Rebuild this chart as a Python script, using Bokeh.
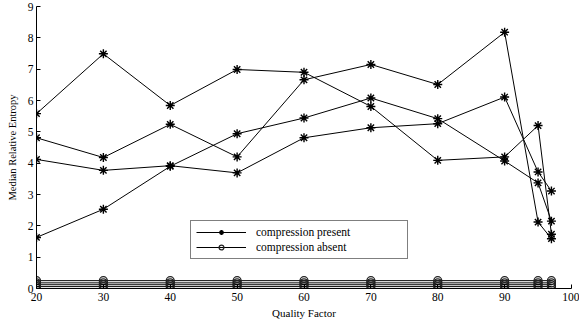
from bokeh.plotting import figure
from bokeh.models import Legend, LegendItem, FixedTicker, Range1d
from bokeh.embed import file_html
from bokeh.resources import INLINE

quality = [20, 30, 40, 50, 60, 70, 80, 90, 95, 97]

present_a = [5.58, 7.49, 5.84, 6.99, 6.90, 5.81, 4.09, 4.20, 5.20, 1.73]
present_b = [4.81, 4.18, 5.24, 4.20, 6.66, 7.15, 6.51, 8.18, 2.12, 1.59]
present_c = [4.12, 3.77, 3.92, 3.69, 4.81, 5.13, 5.26, 6.11, 3.72, 3.11]
present_d = [1.63, 2.53, 3.90, 4.94, 5.44, 6.08, 5.42, 4.07, 3.37, 2.15]

absent_a = [0.25] * 10
absent_b = [0.18] * 10
absent_c = [0.12] * 10
absent_d = [0.06] * 10

x_ticks = [20, 30, 40, 50, 60, 70, 80, 90, 100]
y_ticks = [0, 1, 2, 3, 4, 5, 6, 7, 8, 9]

FONT = "Liberation Serif"

p = figure(width=579, height=323, output_backend="svg", toolbar_location=None,
           x_range=Range1d(20, 100), y_range=Range1d(0, 9),
           min_border_left=36, min_border_right=8, min_border_top=6, min_border_bottom=35)
p.outline_line_color = None
p.xgrid.visible = False
p.ygrid.visible = False

for ax in (p.xaxis[0], p.yaxis[0]):
    ax.axis_line_color = "black"
    ax.major_tick_in = 4
    ax.major_tick_out = 0
    ax.minor_tick_in = 0
    ax.minor_tick_out = 0
    ax.major_tick_line_color = "black"
    ax.major_label_text_font = FONT
    ax.major_label_text_font_size = "11.5px"
    ax.major_label_text_color = "black"
    ax.axis_label_text_font = FONT
    ax.axis_label_text_font_style = "normal"
    ax.axis_label_text_color = "black"

p.xaxis.ticker = FixedTicker(ticks=x_ticks)
p.yaxis.ticker = FixedTicker(ticks=y_ticks)
p.xaxis.axis_label = "Quality Factor"
p.yaxis.axis_label = "Median Relative Entropy"
p.xaxis.axis_label_text_font_size = "11px"
p.yaxis.axis_label_text_font_size = "10.5px"
p.xaxis.major_label_standoff = 4
p.yaxis.major_label_standoff = 3
p.xaxis.axis_label_standoff = 3
p.yaxis.axis_label_standoff = 7

present_items = []
for ys in (present_a, present_b, present_c, present_d):
    l = p.line(quality, ys, line_color="black", line_width=1)
    s = p.scatter(quality, ys, marker="asterisk", size=9, line_color="black", line_width=1.4)
    present_items.append((l, s))

absent_items = []
for ys in (absent_a, absent_b, absent_c, absent_d):
    l = p.line(quality, ys, line_color="black", line_width=1)
    s = p.scatter(quality, ys, marker="circle", size=8, line_color="#222222",
                  fill_color=None, line_width=1.3)
    absent_items.append((l, s))

legend = Legend(items=[
    LegendItem(label="compression present", renderers=list(present_items[0])),
    LegendItem(label="compression absent", renderers=list(absent_items[0])),
], location=(154, 29))
legend.label_text_font = FONT
legend.label_text_font_size = "11.5px"
legend.label_text_color = "black"
legend.glyph_width = 50
legend.glyph_height = 12
legend.label_height = 12
legend.label_width = 146
legend.label_standoff = 10
legend.spacing = 3
legend.padding = 5
legend.margin = 0
legend.border_line_color = "black"
legend.border_line_width = 1
legend.background_fill_alpha = 1
p.add_layout(legend, "center")

open("out.html", "w").write(file_html(p, INLINE))
